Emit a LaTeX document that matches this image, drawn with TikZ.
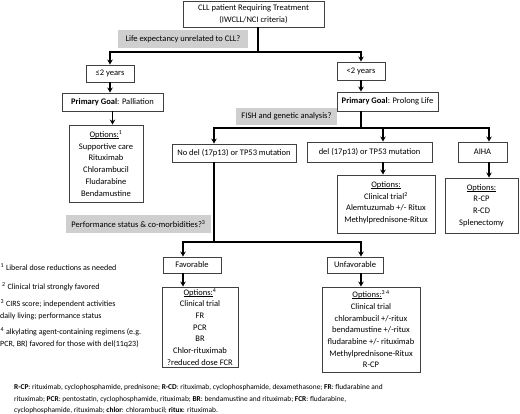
\documentclass[tikz,border=0pt]{standalone}
\usepackage{fontspec}
\setmainfont{Carlito}
\usetikzlibrary{arrows.meta}
\newcommand{\undl}[1]{\setbox0\hbox{#1}\rlap{\rule[-1.3pt]{\wd0}{0.55pt}}\box0}
\begin{document}
\begin{tikzpicture}[x=1pt,y=-1pt,
  box/.style={draw=black!75, line width=0.9pt, fill=white, align=center, inner sep=0pt, font=\fontsize{8.5}{11.7}\selectfont},
  greylab/.style={fill=gray!38, inner sep=0pt, align=center, font=\fontsize{8.5}{11.7}\selectfont},
  ln/.style={line width=1.4pt, line cap=rect},
  arr/.style={line width=1.4pt, -{Stealth[length=5pt,width=5.5pt]}},
  note/.style={inner sep=0pt, anchor=base west, font=\fontsize{8}{10}\selectfont},
  abbr/.style={inner sep=0pt, anchor=base west, font=\fontsize{7.4}{10}\selectfont}]
\useasboundingbox (0,0) rectangle (520,414);

% boxes
\node[box, minimum width=141pt, minimum height=26pt] (top) at (253.5,14) {CLL patient Requiring Treatment\\(IWCLL/NCI criteria)};
\node[greylab, minimum width=130pt, minimum height=18pt] (life) at (183,39) {Life expectancy unrelated to CLL?};
\node[box, minimum width=48pt, minimum height=17pt] (le2) at (110,73.5) {≤2 years};
\node[box, minimum width=101pt, minimum height=18pt] (pal) at (112.5,102) {\textbf{Primary Goal}: Palliation};
\node[box, minimum width=74pt, minimum height=77pt] (opt1) at (106,163.5) {\undl{Options:}\textsuperscript{1}\\Supportive care\\Rituximab\\Chlorambucil\\Fludarabine\\Bendamustine};
\node[box, minimum width=48pt, minimum height=18pt] (lt2) at (361,71) {<2 years};
\node[greylab, minimum width=101pt, minimum height=17pt] (fish) at (286.5,116.5) {FISH and genetic analysis?};
\node[box, minimum width=101pt, minimum height=19pt] (pro) at (387.5,101.5) {\textbf{Primary Goal}: Prolong Life};
\node[box, minimum width=124pt, minimum height=18pt] (nodel) at (234,153) {No del (17p13) or TP53 mutation};
\node[box, minimum width=125pt, minimum height=20pt] (del) at (369.5,152) {del (17p13) or TP53 mutation};
\node[box, minimum width=49pt, minimum height=20pt] (aiha) at (482.5,152) {AIHA};
\node[box, minimum width=98pt, minimum height=58pt, text depth=4pt] (opt2) at (386,204) {\undl{Options:}\\Clinical trial\textsuperscript{2}\\Alemtuzumab +/- Ritux\\Methylprednisone-Ritux};
\node[box, minimum width=73pt, minimum height=55pt] (opt3) at (481.5,205.5) {\undl{Options:}\\R-CP\\R-CD\\Splenectomy};
\node[greylab, minimum width=145pt, minimum height=18pt] (perf) at (138.5,224) {Performance status \& co-morbidities?\textsuperscript{3}};
\node[box, minimum width=58pt, minimum height=16pt] (fav) at (192,265) {Favorable};
\node[box, minimum width=56pt, minimum height=16pt] (unfav) at (355,265) {Unfavorable};
\node[box, minimum width=76pt, minimum height=80pt] (opt4) at (200,327) {\undl{Options:}\textsuperscript{4}\\Clinical trial\\FR\\PCR\\BR\\Chlor-rituximab\\?reduced dose FCR};
\node[box, minimum width=98pt, minimum height=85pt] (opt5) at (371,329.5) {\undl{Options:}\textsuperscript{3 4}\\Clinical trial\\chlorambucil +/-ritux\\bendamustine +/-ritux\\fludarabine +/- rituximab\\Methylprednisone-Ritux\\R-CP};

% footnotes
\node[note] (f1) at (0.5,270.5) {\textsuperscript{1} Liberal dose reductions as needed};
\node[note] (f2) at (2,289.5) {\textsuperscript{2} Clinical trial strongly favored};
\node[note] (f3) at (0.5,306.5) {\textsuperscript{3} CIRS score; independent activities};
\node[note] (f3b) at (0,318.5) {daily living; performance status};
\node[note] (f4) at (0.5,334.5) {\textsuperscript{4} alkylating agent-containing regimens (e.g.};
\node[note] (f4b) at (0,346.5) {PCR, BR) favored for those with del(11q23)};

% abbreviations
\node[abbr] (a1) at (14,389.5) {\textbf{R-CP}: rituximab, cyclophosphamide, prednisone; \textbf{R-CD}: rituximab, cyclophosphamide, dexamethasone; \textbf{FR}: fludarabine and};
\node[abbr] (a2) at (14,401.5) {rituximab; \textbf{PCR}: pentostatin, cyclophosphamide, rituximab; \textbf{BR}: bendamustine and rituximab; \textbf{FCR}: fludarabine,};
\node[abbr] (a3) at (14,412) {cyclophosphamide, rituximab; \textbf{chlor}: chlorambucil; \textbf{ritux}: rituximab.};

% connectors
\coordinate (j1) at (258,52);
\coordinate (jl) at (110,52);
\coordinate (jr) at (361,52);
\draw[ln] (top.south -| j1) -- (j1);
\draw[ln] (jl) -- (jr);
\draw[arr] (jl) -- (le2.north);
\draw[arr] (jr) -- (lt2.north);
\draw[arr] (le2.south) -- (le2.south |- pal.north);
\draw[arr] (pal.south) -- (pal.south |- opt1.north);
\draw[arr] (lt2.south) -- (lt2.south |- pro.north);
\coordinate (j2) at (361,128);
\coordinate (b1) at (214,128);
\coordinate (b2) at (383,128);
\coordinate (b3) at (489,128);
\draw[ln] (pro.south -| j2) -- (j2);
\draw[ln] (b1) -- (b3);
\draw[arr] (b1) -- (b1 |- nodel.north);
\draw[arr] (b2) -- (b2 |- del.north);
\draw[arr] (b3) -- (b3 |- aiha.north);
\draw[arr] (del.south -| b2) -- (opt2.north -| b2);
\draw[arr] (aiha.south -| b3) -- (opt3.north -| b3);
\coordinate (j3) at (214,242);
\coordinate (c1) at (183,242);
\coordinate (c2) at (361,242);
\draw[ln] (nodel.south -| j3) -- (j3);
\draw[ln] (c1) -- (c2);
\draw[arr] (c1) -- (c1 |- fav.north);
\draw[arr] (c2) -- (c2 |- unfav.north);
\draw[arr] (fav.south -| c1) -- (opt4.north -| c1);
\draw[arr] (unfav.south -| c2) -- (opt5.north -| c2);
\end{tikzpicture}
\end{document}
